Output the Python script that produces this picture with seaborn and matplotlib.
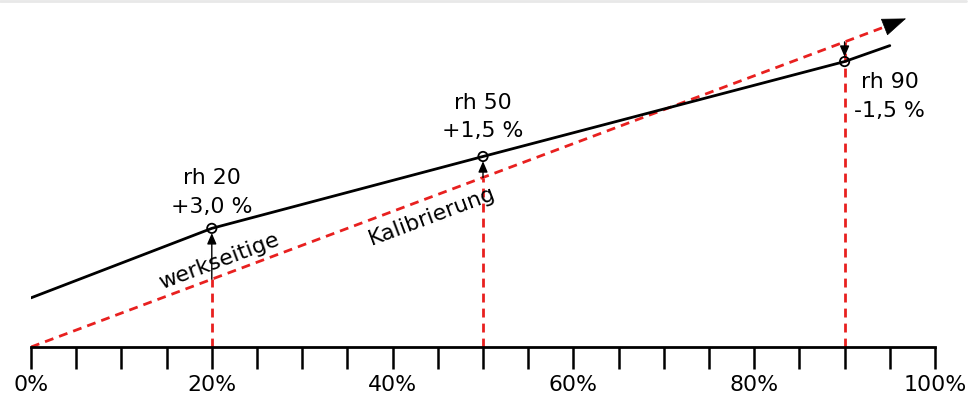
import matplotlib
matplotlib.use("Agg")
import matplotlib.pyplot as plt
from matplotlib.lines import Line2D
from matplotlib.ticker import MultipleLocator
import seaborn as sns

# ---- data ----
curve_x = [0, 20, 50, 90, 95]            # % rh (sensor characteristic)
curve_y = [14.5, 35.0, 56.2, 84.2, 88.9]
ideal_x = [0, 95]                        # ideal line y = x
ideal_y = [0, 95]
cal_x = [20, 50, 90]                     # calibration points
cal_ideal = [20, 50, 90]
cal_meas = [35.0, 56.2, 84.2]
cal_names = ["rh 20", "rh 50", "rh 90"]
cal_offsets = ["+3,0 %", "+1,5 %", "-1,5 %"]
tick_values = [0, 20, 40, 60, 80, 100]
tick_labels = ["0%", "20%", "40%", "60%", "80%", "100%"]

sns.set_style("white")
plt.rcParams["font.family"] = ["DejaVu Sans"]
plt.rcParams["text.color"] = "black"
plt.rcParams["xtick.color"] = "black"
plt.rcParams["xtick.labelcolor"] = "black"
FS = 15.8
RED = "#e8201f"
DASH = (0, (3.2, 2.2))

fig = plt.figure(figsize=(9.76, 4.01), dpi=100)
ax = fig.add_axes([31 / 976, 54 / 401, 904 / 976, 347 / 401])
ax.set_xlim(0, 100)
ax.set_ylim(0, 347 / 3.39)

# ideal (red dashed) line
sns.lineplot(x=ideal_x, y=ideal_y, ax=ax, color=RED, lw=2.0,
             linestyle=DASH, zorder=2)
# arrow head at end of ideal line
ax.annotate("", xy=(96.8, 96.9), xytext=(94.6, 94.6),
            arrowprops=dict(arrowstyle="-|>,head_length=0.8,head_width=0.3",
                            color="black", lw=0.5, mutation_scale=20,
                            shrinkA=0, shrinkB=0),
            annotation_clip=False, zorder=5)

# red vertical guides
for xv, yv in zip(cal_x, cal_ideal):
    ax.plot([xv, xv], [0, yv], color=RED, lw=2.0, linestyle=DASH, zorder=2)

# sensor curve
sns.lineplot(x=curve_x, y=curve_y, ax=ax, color="black", lw=2.0, zorder=3)

# deviation arrows
for xv, yi, ym in zip(cal_x, cal_ideal, cal_meas):
    tgt = ym - 1.4 if ym > yi else ym + 1.4
    ax.annotate("", xy=(xv, tgt), xytext=(xv, yi),
                arrowprops=dict(arrowstyle="-|>,head_length=0.65,head_width=0.28",
                                color="black", lw=1.0, mutation_scale=10,
                                shrinkA=0, shrinkB=0), zorder=4)

# markers
sns.scatterplot(x=cal_x, y=cal_meas, ax=ax, marker="o", s=45,
                facecolors="none", edgecolor="black", linewidth=1.3, zorder=6)

# labels
label_pos = [(20, 49.9, 41.3), (50, 72.0, 63.7), (95, 78.2, 69.6)]
for (lx, y1, y2), name, off in zip(label_pos, cal_names, cal_offsets):
    ax.text(lx, y1, name, ha="center", va="center", fontsize=FS)
    ax.text(lx, y2, off, ha="center", va="center", fontsize=FS)

ax.text(20.8, 25.3, "werkseitige", ha="center", va="center", fontsize=FS,
        rotation=20.6, rotation_mode="anchor")
ax.text(44.4, 38.5, "Kalibrierung", ha="center", va="center", fontsize=FS,
        rotation=20.6, rotation_mode="anchor")

# axis styling
for s in ["top", "left", "right"]:
    ax.spines[s].set_visible(False)
ax.spines["bottom"].set_linewidth(2.0)
ax.spines["bottom"].set_color("black")
ax.set_yticks([])
ax.xaxis.set_minor_locator(MultipleLocator(5))
ax.set_xticks(tick_values)
ax.set_xticklabels(tick_labels, fontsize=FS)
ax.tick_params(axis="x", which="both", direction="out", length=16, width=1.8,
               color="black", bottom=True)
ax.tick_params(axis="x", which="major", pad=4)
ax.set_xlabel("")
ax.set_ylabel("")
ax.patch.set_alpha(0)

# light top border as in reference
fig.add_artist(Line2D([0, 0.99], [0.998, 0.998], transform=fig.transFigure,
                      color="#e8e8e8", lw=2))

fig.savefig("out.png", dpi=100)
